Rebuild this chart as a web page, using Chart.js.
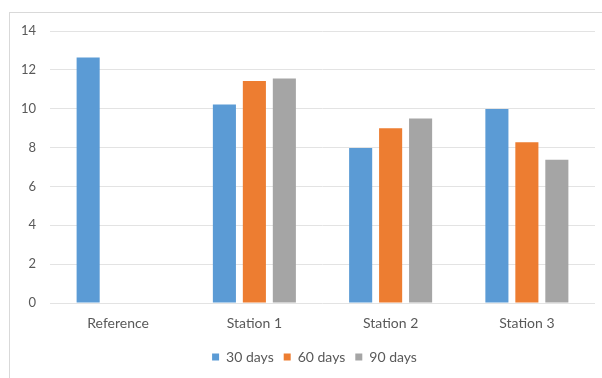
<!DOCTYPE html>
<html>
<head>
<meta charset="utf-8">
<script src="https://cdn.jsdelivr.net/npm/chart.js@4.4.0/dist/chart.umd.min.js"></script>
<style>
  html, body { margin: 0; padding: 0; background: #fff; }
  #wrap { position: relative; width: 602px; height: 378px; }
  #frame { position: absolute; left: 9px; top: 12px; right: -2px; bottom: -2px;
           border-top: 1px solid #d9d9d9; border-left: 1px solid #d9d9d9; pointer-events: none; }
  canvas { position: absolute; left: 0; top: 0; }
</style>
</head>
<body>
<div id="wrap">
  <canvas id="c" width="602" height="378"></canvas>
  <div id="frame"></div>
</div>
<script>
const categories = ["Reference", "Station 1", "Station 2", "Station 3"];
const seriesNames = ["30 days", "60 days", "90 days"];
const days30 = [12.63, 10.22, 7.98, 9.98];
const days60 = [null, 11.43, 8.99, 8.28];
const days90 = [null, 11.55, 9.5, 7.37];
const yTicks = [0, 2, 4, 6, 8, 10, 12, 14];

const colors = ["#5B9BD5", "#ED7D31", "#A5A5A5"];
const fontFamily = "Lato, 'Open Sans', sans-serif";
const textColor = "#595959";

const legendShift = {
  id: "legendShift",
  afterLayout(chart) {
    const lg = chart.legend;
    if (lg) {
      lg.left += 34;
      if (lg.adjustHitBoxes) lg.adjustHitBoxes();
    }
  }
};

new Chart(document.getElementById("c"), {
  type: "bar",
  data: {
    labels: categories,
    datasets: [days30, days60, days90].map((d, i) => ({
      label: seriesNames[i],
      data: d,
      backgroundColor: colors[i],
      borderWidth: 0,
      categoryPercentage: 0.66,
      barPercentage: 0.77
    }))
  },
  plugins: [legendShift],
  options: {
    responsive: false,
    animation: false,
    devicePixelRatio: 1,
    layout: { padding: { top: 31, right: 7, bottom: 4, left: 0 } },
    plugins: {
      tooltip: { enabled: false },
      legend: {
        position: "bottom",
        labels: {
          boxWidth: 7, boxHeight: 7, padding: 10,
          color: textColor,
          font: { family: fontFamily, size: 14 }
        }
      }
    },
    scales: {
      x: {
        grid: { display: false, drawTicks: false },
        border: { display: false },
        ticks: { color: textColor, font: { family: fontFamily, size: 14 }, padding: 12 },
        afterFit: s => { s.height = 37; }
      },
      y: {
        min: yTicks[0],
        max: yTicks[yTicks.length - 1],
        afterBuildTicks: s => { s.ticks = yTicks.map(v => ({ value: v })); },
        grid: { color: "#e3e3e3", drawTicks: false, lineWidth: 1 },
        border: { display: false },
        ticks: { color: textColor, font: { family: fontFamily, size: 13 }, padding: 14 },
        afterFit: s => { s.width = 50; }
      }
    }
  }
});
</script>
</body>
</html>
